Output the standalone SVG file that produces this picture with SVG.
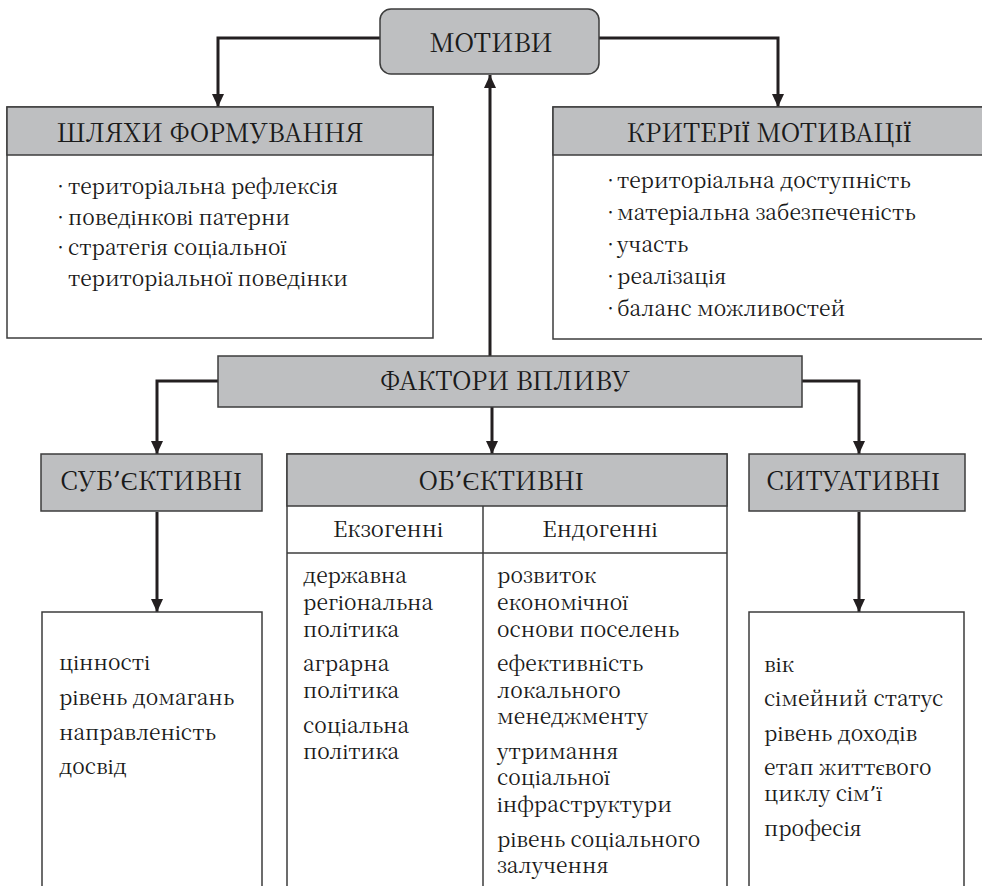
<svg xmlns="http://www.w3.org/2000/svg" width="982" height="886" viewBox="0 0 982 886">
<defs>
<marker id="arr" markerUnits="userSpaceOnUse" markerWidth="13" markerHeight="12" refX="13" refY="6" orient="auto">
<path d="M0,0 L13,6 L0,12 z" fill="#231f20"/>
</marker>
</defs>
<rect width="982" height="886" fill="#ffffff"/>

<g id="connectors" fill="none" stroke="#231f20" stroke-width="3">
<path d="M380,38 H218 V107" marker-end="url(#arr)"/>
<path d="M599,38 H778 V107" marker-end="url(#arr)"/>
<path d="M490,356 V75" marker-end="url(#arr)"/>
<path d="M218,381 H157 V454" marker-end="url(#arr)"/>
<path d="M492,407 V454" marker-end="url(#arr)"/>
<path d="M802,381 H859 V454" marker-end="url(#arr)"/>
<path d="M157,512 V612" marker-end="url(#arr)"/>
<path d="M859,512 V612" marker-end="url(#arr)"/>
</g>

<g id="motyvy" font-size="26" fill="#1a1a1a">
<rect x="380" y="9" width="219" height="65" rx="11" fill="#bebfc1" stroke="#3c3c3c" stroke-width="1.5"/>
<text font-family="Noto Serif CJK SC" text-anchor="middle" x="491" y="52">МОТИВИ</text>
</g>

<g id="shliakhy" font-size="21" fill="#1a1a1a">
<rect x="7" y="107" width="426" height="231" fill="#ffffff" stroke="#3c3c3c" stroke-width="1.5"/>
<rect x="7" y="107" width="426" height="48" fill="#bebfc1" stroke="#3c3c3c" stroke-width="1.5"/>
<text font-family="Noto Serif CJK SC" font-size="25.5" text-anchor="middle" x="210" y="142">ШЛЯХИ ФОРМУВАННЯ</text>
<text font-family="Noto Serif CJK SC" y="194"><tspan x="50">• </tspan><tspan x="68">територіальна рефлексія</tspan></text>
<text font-family="Noto Serif CJK SC" y="225"><tspan x="50">• </tspan><tspan x="68">поведінкові патерни</tspan></text>
<text font-family="Noto Serif CJK SC" y="255"><tspan x="50">• </tspan><tspan x="68">стратегія соціальної</tspan></text>
<text font-family="Noto Serif CJK SC" x="68" y="286">територіальної поведінки</text>
</g>

<g id="kryterii" font-size="21" fill="#1a1a1a">
<rect x="553" y="107" width="432" height="232" fill="#ffffff" stroke="#3c3c3c" stroke-width="1.5"/>
<rect x="553" y="107" width="432" height="48" fill="#bebfc1" stroke="#3c3c3c" stroke-width="1.5"/>
<text font-family="Noto Serif CJK SC" font-size="25.5" text-anchor="middle" x="769" y="142">КРИТЕРІЇ МОТИВАЦІЇ</text>
<text font-family="Noto Serif CJK SC" y="188"><tspan x="600">• </tspan><tspan x="617">територіальна доступність</tspan></text>
<text font-family="Noto Serif CJK SC" y="220"><tspan x="600">• </tspan><tspan x="617">матеріальна забезпеченість</tspan></text>
<text font-family="Noto Serif CJK SC" y="252"><tspan x="600">• </tspan><tspan x="617">участь</tspan></text>
<text font-family="Noto Serif CJK SC" y="284"><tspan x="600">• </tspan><tspan x="617">реалізація</tspan></text>
<text font-family="Noto Serif CJK SC" y="316"><tspan x="600">• </tspan><tspan x="617">баланс можливостей</tspan></text>
</g>

<g id="faktory" font-size="25.5" fill="#1a1a1a">
<rect x="218" y="356" width="584" height="51" fill="#bebfc1" stroke="#3c3c3c" stroke-width="1.5"/>
<text font-family="Noto Serif CJK SC" text-anchor="middle" x="505" y="390">ФАКТОРИ ВПЛИВУ</text>
</g>

<g id="subiektyvni" font-size="25.5" fill="#1a1a1a">
<rect x="41" y="454" width="221" height="57" fill="#bebfc1" stroke="#3c3c3c" stroke-width="1.5"/>
<text font-family="Noto Serif CJK SC" text-anchor="middle" x="151" y="490">СУБ<tspan font-family="DejaVu Serif">’</tspan>ЄКТИВНІ</text>
</g>

<g id="obiektyvni" font-size="21" fill="#1a1a1a">
<path d="M287,890 V454 H727 V890" fill="none" stroke="#3c3c3c" stroke-width="1.5"/>
<rect x="287" y="454" width="440" height="52" fill="#bebfc1" stroke="#3c3c3c" stroke-width="1.5"/>
<line x1="287" y1="553" x2="727" y2="553" stroke="#3c3c3c" stroke-width="1.5"/>
<line x1="483" y1="506" x2="483" y2="890" stroke="#3c3c3c" stroke-width="1.5"/>
<text font-family="Noto Serif CJK SC" font-size="25.5" text-anchor="middle" x="501" y="490">ОБ<tspan font-family="DejaVu Serif">’</tspan>ЄКТИВНІ</text>
<text font-family="Noto Serif CJK SC" font-size="22" text-anchor="middle" x="388" y="537">Екзогенні</text>
<text font-family="Noto Serif CJK SC" font-size="22" text-anchor="middle" x="600" y="537">Ендогенні</text>
<text font-family="Noto Serif CJK SC" x="303" y="583">державна</text>
<text font-family="Noto Serif CJK SC" x="303" y="610">регіональна</text>
<text font-family="Noto Serif CJK SC" x="303" y="637">політика</text>
<text font-family="Noto Serif CJK SC" x="303" y="671">аграрна</text>
<text font-family="Noto Serif CJK SC" x="303" y="698">політика</text>
<text font-family="Noto Serif CJK SC" x="303" y="733">соціальна</text>
<text font-family="Noto Serif CJK SC" x="303" y="759">політика</text>
<text font-family="Noto Serif CJK SC" x="497" y="583">розвиток</text>
<text font-family="Noto Serif CJK SC" x="497" y="610">економічної</text>
<text font-family="Noto Serif CJK SC" x="497" y="637">основи поселень</text>
<text font-family="Noto Serif CJK SC" x="497" y="671">ефективність</text>
<text font-family="Noto Serif CJK SC" x="497" y="698">локального</text>
<text font-family="Noto Serif CJK SC" x="497" y="724">менеджменту</text>
<text font-family="Noto Serif CJK SC" x="497" y="759">утримання</text>
<text font-family="Noto Serif CJK SC" x="497" y="785">соціальної</text>
<text font-family="Noto Serif CJK SC" x="497" y="812">інфраструктури</text>
<text font-family="Noto Serif CJK SC" x="497" y="847">рівень соціального</text>
<text font-family="Noto Serif CJK SC" x="497" y="873">залучення</text>
</g>

<g id="sytuatyvni" font-size="25.5" fill="#1a1a1a">
<rect x="749" y="454" width="216" height="57" fill="#bebfc1" stroke="#3c3c3c" stroke-width="1.5"/>
<text font-family="Noto Serif CJK SC" text-anchor="middle" x="853" y="490">СИТУАТИВНІ</text>
</g>

<g id="subiektyvni-list" font-size="21" fill="#1a1a1a">
<path d="M42,890 V612 H262 V890" fill="none" stroke="#3c3c3c" stroke-width="1.5"/>
<text font-family="Noto Serif CJK SC" x="59" y="670">цінності</text>
<text font-family="Noto Serif CJK SC" x="59" y="705">рівень домагань</text>
<text font-family="Noto Serif CJK SC" x="59" y="740">направленість</text>
<text font-family="Noto Serif CJK SC" x="59" y="774">досвід</text>
</g>

<g id="sytuatyvni-list" font-size="21" fill="#1a1a1a">
<path d="M749,890 V612 H964 V890" fill="none" stroke="#3c3c3c" stroke-width="1.5"/>
<text font-family="Noto Serif CJK SC" x="764" y="672">вік</text>
<text font-family="Noto Serif CJK SC" x="764" y="706">сімейний статус</text>
<text font-family="Noto Serif CJK SC" x="764" y="741">рівень доходів</text>
<text font-family="Noto Serif CJK SC" x="764" y="775">етап життєвого</text>
<text font-family="Noto Serif CJK SC" x="764" y="801">циклу сім<tspan font-family="DejaVu Serif">’</tspan>ї</text>
<text font-family="Noto Serif CJK SC" x="764" y="836">професія</text>
</g>
</svg>
